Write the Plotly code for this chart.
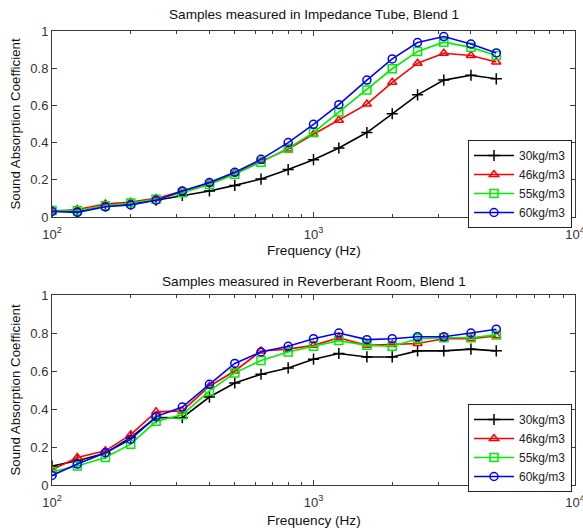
import plotly.graph_objects as go

freq = [100, 125, 160, 200, 250, 315, 400, 500, 630, 800, 1000, 1250, 1600, 2000, 2500, 3150, 4000, 5000]
series_names = ["30kg/m3", "46kg/m3", "55kg/m3", "60kg/m3"]

tube_30 = [0.032, 0.03, 0.06, 0.07, 0.09, 0.116, 0.14, 0.17, 0.204, 0.255, 0.308, 0.371, 0.454, 0.555, 0.657, 0.736, 0.762, 0.743]
tube_46 = [0.03, 0.04, 0.07, 0.08, 0.10, 0.14, 0.18, 0.235, 0.30, 0.365, 0.445, 0.52, 0.607, 0.724, 0.827, 0.88, 0.868, 0.833]
tube_55 = [0.035, 0.035, 0.06, 0.075, 0.095, 0.13, 0.175, 0.23, 0.295, 0.37, 0.454, 0.565, 0.683, 0.797, 0.89, 0.94, 0.912, 0.868]
tube_60 = [0.03, 0.025, 0.055, 0.065, 0.09, 0.14, 0.185, 0.24, 0.31, 0.40, 0.498, 0.604, 0.736, 0.85, 0.938, 0.97, 0.93, 0.882]

room_30 = [0.10, 0.128, 0.167, 0.25, 0.355, 0.354, 0.463, 0.537, 0.583, 0.616, 0.662, 0.692, 0.674, 0.674, 0.706, 0.706, 0.715, 0.706]
room_46 = [0.08, 0.145, 0.18, 0.265, 0.385, 0.39, 0.52, 0.60, 0.705, 0.715, 0.735, 0.775, 0.735, 0.74, 0.745, 0.77, 0.77, 0.785]
room_55 = [0.07, 0.10, 0.145, 0.215, 0.335, 0.37, 0.495, 0.59, 0.655, 0.70, 0.73, 0.76, 0.735, 0.73, 0.77, 0.775, 0.775, 0.79]
room_60 = [0.05, 0.11, 0.17, 0.24, 0.36, 0.41, 0.53, 0.64, 0.70, 0.73, 0.77, 0.80, 0.765, 0.77, 0.78, 0.78, 0.80, 0.82]

titles = ["Samples measured in Impedance Tube, Blend 1", "Samples measured in Reverberant Room, Blend 1"]
x_title = "Frequency (Hz)"
y_title = "Sound Absorption Coefficient"
y_ticks = [0, 0.2, 0.4, 0.6, 0.8, 1]
y_ticktext = ["0", "0.2", "0.4", "0.6", "0.8", "1"]
x_ticks = [100, 1000, 10000]
x_ticktext = ["10<sup>2</sup>", "10<sup>3</sup>", "10<sup>4</sup>"]
x_minor = [200, 300, 400, 500, 600, 700, 800, 900, 2000, 3000, 4000, 5000, 6000, 7000, 8000, 9000]

colors = ["#000000", "#ff0000", "#00ee00", "#0000ff"]
symbols = ["cross-thin-open", "triangle-up-open", "square-open", "circle-open"]
sizes = [8, 8, 8, 8]

W, H = 583, 531
L, R, T, B = 52, 8, 31, 46
ph = H - T - B
def py(pix):
    return (H - B - pix) / ph
def px(pix):
    return (pix - L) / (W - L - R)

FF = "Liberation Sans, Arial"

fig = go.Figure()
groups = [(tube_30, tube_46, tube_55, tube_60), (room_30, room_46, room_55, room_60)]
for gi, grp in enumerate(groups):
    for si, vals in enumerate(grp):
        fig.add_trace(go.Scatter(
            x=freq, y=vals, mode="lines+markers", name=series_names[si],
            line=dict(color=colors[si], width=1.6),
            marker=dict(symbol=symbols[si], size=sizes[si], color=colors[si],
                        line=dict(color=colors[si], width=1.5)),
            xaxis="x" if gi == 0 else "x2", yaxis="y" if gi == 0 else "y2",
            legend="legend" if gi == 0 else "legend2",
        ))

axis_color = "#3a3a3a"
xcommon = dict(type="log", range=[2, 4], tickvals=x_ticks, ticktext=x_ticktext,
               ticks="inside", ticklen=5, tickcolor=axis_color, showline=True,
               linecolor=axis_color, linewidth=1, mirror="ticks", showgrid=False,
               zeroline=False, ticklabelstandoff=5, ticklabeloverflow="allow",
               automargin=False,
               tickfont=dict(family=FF, size=13, color="#333"),
               minor=dict(tickvals=x_minor, ticks="inside", ticklen=3, tickcolor=axis_color, showgrid=False))
ycommon = dict(range=[0, 1], tickvals=y_ticks, ticktext=y_ticktext, ticks="inside",
               ticklen=5, tickcolor=axis_color, showline=True, linecolor=axis_color,
               linewidth=1, mirror="ticks", showgrid=False, zeroline=False,
               automargin=False,
               tickfont=dict(family=FF, size=13, color="#333"),
               title=dict(text=y_title, font=dict(family=FF, size=13.3, color="#111"), standoff=6))

legend_common = dict(bgcolor="white", bordercolor="#222", borderwidth=1,
                     font=dict(family=FF, size=12, color="#222"),
                     xanchor="left", yanchor="top", tracegroupgap=0, itemwidth=40)

def ann(text, y, size):
    return dict(text=text, x=0.5, y=py(y), xref="paper", yref="paper", showarrow=False,
                xanchor="center", yanchor="middle",
                font=dict(family=FF, size=size, color="#111"))

fig.update_layout(
    width=W, height=H, margin=dict(l=L, r=R, t=T, b=B, autoexpand=False),
    paper_bgcolor="white", plot_bgcolor="white", font=dict(family=FF, size=12, color="#262626"),
    xaxis=dict(xcommon, domain=[0, 1], anchor="y"),
    yaxis=dict(ycommon, domain=[py(217), 1], anchor="x"),
    xaxis2=dict(xcommon, domain=[0, 1], anchor="y2"),
    yaxis2=dict(ycommon, domain=[0, py(295)], anchor="x2"),
    legend=dict(legend_common, x=px(468), y=py(140)),
    legend2=dict(legend_common, x=px(468), y=py(404)),
    annotations=[
        ann(titles[0], 14, 13.6),
        ann(titles[1], 281, 13.6),
        ann(x_title, 250, 13.6),
        ann(x_title, 520, 13.6),
    ],
)

fig.write_html("out.html")
